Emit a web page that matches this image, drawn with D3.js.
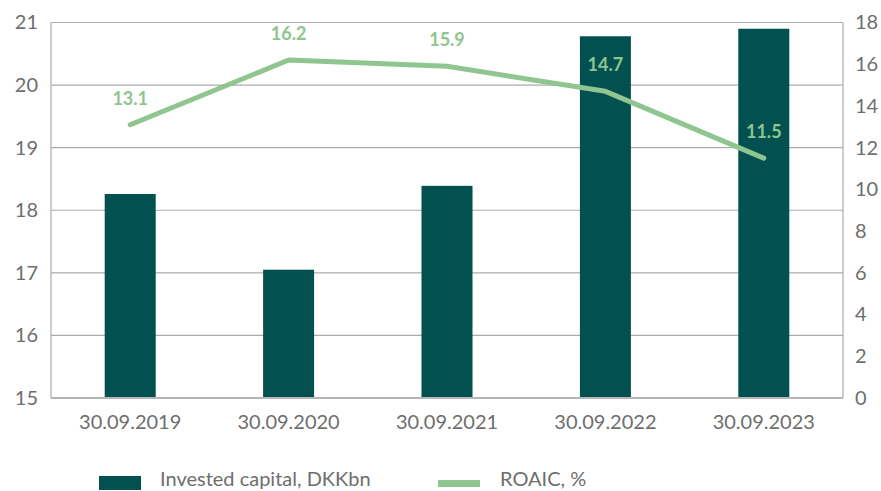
<!DOCTYPE html>
<html>
<head>
<meta charset="utf-8">
<script src="https://cdn.jsdelivr.net/npm/d3@7"></script>
<style>
  html, body { margin: 0; padding: 0; background: #fff; }
  svg { display: block; font-family: Lato, "Open Sans", sans-serif; }
</style>
</head>
<body>
<svg id="chart" width="881" height="491"></svg>
<script>
// Reporting dates
const categories = ["30.09.2019", "30.09.2020", "30.09.2021", "30.09.2022", "30.09.2023"];
// Invested capital, DKKbn (bars, left axis)
const investedCapital = [18.26, 17.05, 18.39, 20.78, 20.9];
// ROAIC, % (line, right axis)
const roaic = [13.1, 16.2, 15.9, 14.7, 11.5];
// Axis ticks
const leftTicks = [15, 16, 17, 18, 19, 20, 21];
const rightTicks = [0, 2, 4, 6, 8, 10, 12, 14, 16, 18];
// Legend entries
const legendLabels = ["Invested capital, DKKbn", "ROAIC, %"];

const barColor = "#025050";
const lineColor = "#8fc58e";
const gridColor = "#ababab";
const textColor = "#6e6e6e";

const svg = d3.select("#chart");
const plot = { left: 51, right: 843, top: 22.5, bottom: 398 };

const x = d3.scaleBand()
  .domain(categories)
  .range([plot.left, plot.right])
  .paddingInner(0.678)
  .paddingOuter(0.339);

const yLeft = d3.scaleLinear().domain([15, 21]).range([plot.bottom, plot.top]);
const yRight = d3.scaleLinear().domain([0, 18]).range([plot.bottom, plot.top]);

// Horizontal gridlines from the left axis
svg.append("g")
  .selectAll("line")
  .data(leftTicks)
  .join("line")
  .attr("x1", plot.left).attr("x2", plot.right)
  .attr("y1", d => yLeft(d)).attr("y2", d => yLeft(d))
  .attr("stroke", gridColor).attr("stroke-width", 1.2);

// Left and right frame edges
svg.append("line")
  .attr("x1", plot.left).attr("x2", plot.left)
  .attr("y1", plot.top).attr("y2", plot.bottom)
  .attr("stroke", gridColor).attr("stroke-width", 1.2);
svg.append("line")
  .attr("x1", plot.right).attr("x2", plot.right)
  .attr("y1", plot.top).attr("y2", plot.bottom)
  .attr("stroke", gridColor).attr("stroke-width", 1.2);

// Bars
svg.append("g")
  .selectAll("rect")
  .data(categories)
  .join("rect")
  .attr("x", d => x(d))
  .attr("width", x.bandwidth())
  .attr("y", (d, i) => yLeft(investedCapital[i]))
  .attr("height", (d, i) => yLeft(15) - yLeft(investedCapital[i]))
  .attr("fill", barColor);

// Bottom axis line drawn over the bars
svg.append("line")
  .attr("x1", plot.left).attr("x2", plot.right)
  .attr("y1", plot.bottom).attr("y2", plot.bottom)
  .attr("stroke", "#b5b5b5").attr("stroke-width", 2);

// Left axis
const leftAxis = svg.append("g")
  .attr("transform", `translate(${plot.left},0)`)
  .call(d3.axisLeft(yLeft).tickValues(leftTicks).tickSize(0).tickPadding(13).tickFormat(d3.format("d")));
leftAxis.select(".domain").remove();
leftAxis.selectAll("text").attr("font-size", 20).attr("fill", textColor).attr("font-family", "Lato, sans-serif");

// Right axis
const rightAxis = svg.append("g")
  .attr("transform", `translate(${plot.right},0)`)
  .call(d3.axisRight(yRight).tickValues(rightTicks).tickSize(0).tickPadding(12).tickFormat(d3.format("d")));
rightAxis.select(".domain").remove();
rightAxis.selectAll("text").attr("font-size", 20).attr("fill", textColor).attr("font-family", "Lato, sans-serif");

// Category axis
const bottomAxis = svg.append("g")
  .attr("transform", `translate(0,${plot.bottom})`)
  .call(d3.axisBottom(x).tickSize(0).tickPadding(17));
bottomAxis.select(".domain").remove();
bottomAxis.selectAll("text").attr("font-size", 20).attr("fill", textColor).attr("font-family", "Lato, sans-serif");

// ROAIC line
const cx = d => x(d) + x.bandwidth() / 2;
const line = d3.line()
  .x((d, i) => cx(categories[i]))
  .y(d => yRight(d));
svg.append("path")
  .datum(roaic)
  .attr("d", line)
  .attr("fill", "none")
  .attr("stroke", lineColor)
  .attr("stroke-width", 5)
  .attr("stroke-linecap", "round")
  .attr("stroke-linejoin", "round");

// Value labels above the line points
svg.append("g")
  .selectAll("text")
  .data(roaic)
  .join("text")
  .attr("x", (d, i) => cx(categories[i]))
  .attr("y", d => yRight(d) - 20)
  .attr("text-anchor", "middle")
  .attr("font-size", 18)
  .attr("font-weight", 700)
  .attr("fill", lineColor)
  .attr("font-family", "Lato, sans-serif")
  .text(d => d3.format(".1f")(d));

// Legend
const legend = svg.append("g");
legend.append("rect")
  .attr("x", 99).attr("y", 476).attr("width", 42).attr("height", 14)
  .attr("fill", barColor);
legend.append("text")
  .attr("x", 160).attr("y", 486)
  .attr("font-size", 20).attr("fill", textColor)
  .attr("font-family", "Lato, sans-serif")
  .text(legendLabels[0]);
legend.append("rect")
  .attr("x", 438).attr("y", 480).attr("width", 42).attr("height", 7)
  .attr("fill", lineColor);
legend.append("text")
  .attr("x", 500).attr("y", 486)
  .attr("font-size", 20).attr("fill", textColor)
  .attr("font-family", "Lato, sans-serif")
  .text(legendLabels[1]);
</script>
</body>
</html>
